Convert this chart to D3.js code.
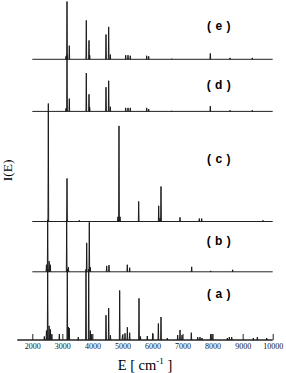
<!DOCTYPE html>
<html>
<head>
<meta charset="utf-8">
<script src="https://d3js.org/d3.v7.min.js"></script>
<style>
body { margin: 0; background: #fff; }
.peak { fill: none; stroke: #1a1a1a; stroke-width: 1; stroke-linejoin: miter; }
.base { stroke: #222; stroke-width: 1; }
.tag { font: bold 12px "Liberation Sans", Arial, sans-serif; letter-spacing: 0.5px; }
.tick text { font-family: "Liberation Serif", "Times New Roman", serif; font-size: 8px; }
</style>
</head>
<body>
<div id="chart"></div>
<script>
// tick labels on the energy axis
var xTicks = [2000, 3000, 4000, 5000, 6000, 7000, 8000, 9000, 10000];
var panelNames = ["(e)", "(d)", "(c)", "(b)", "(a)"];

// peak positions (cm-1) and intensities (relative)
var eE = [3120, 3155, 3232, 3797, 3887, 3910, 4453, 4542, 4596, 5108, 5185, 5261, 5807, 5873, 6640, 7924, 8580, 9321];
var eI = [0.025, 0.49, 0.115, 0.33, 0.16, 0.035, 0.21, 0.275, 0.04, 0.035, 0.035, 0.03, 0.03, 0.025, 0.005, 0.05, 0.012, 0.012];

var dE = [3120, 3155, 3232, 3797, 3887, 3910, 4453, 4542, 4596, 5108, 5185, 5261, 5807, 5873, 6640, 7924, 8580, 9321];
var dI = [0.025, 0.48, 0.108, 0.325, 0.145, 0.035, 0.205, 0.26, 0.04, 0.03, 0.03, 0.03, 0.03, 0.02, 0.005, 0.045, 0.01, 0.01];

var cE = [2533, 3155, 3565, 4850, 4885, 4920, 5540, 6206, 6250, 6283, 6916, 7557, 7637, 9677];
var cI = [1.0, 0.365, 0.01, 0.04, 0.81, 0.04, 0.17, 0.133, 0.03, 0.297, 0.035, 0.025, 0.025, 0.01];

var bE = [2470, 2512, 2560, 2600, 3144, 3200, 3810, 3897, 3930, 4475, 4552, 5161, 5240, 7304, 7936, 8668];
var bI = [0.06, 0.44, 0.09, 0.06, 0.44, 0.04, 0.245, 0.42, 0.04, 0.05, 0.057, 0.06, 0.035, 0.042, 0.008, 0.017];

var aE = [2400, 2470, 2512, 2560, 2600, 2650, 2900, 3165, 3200, 3230, 3530, 3787, 3877, 3930, 3980, 4453, 4542, 4600,
          4908, 5000, 5085, 5163, 5240, 5551, 5600, 5827, 6007, 6195, 6283, 6493, 6838, 6916, 6983, 7292, 7504, 7580,
          7647, 7936, 7980, 8490, 8557, 8636, 9355, 9489, 9800];
var aI = [0.03, 0.08, 0.6, 0.12, 0.09, 0.05, 0.05, 0.6, 0.11, 0.1, 0.025, 0.6, 0.6, 0.08, 0.05, 0.21, 0.27, 0.04,
          0.42, 0.04, 0.057, 0.108, 0.062, 0.353, 0.03, 0.034, 0.057, 0.14, 0.195, 0.017, 0.042, 0.085, 0.042, 0.062, 0.025, 0.025,
          0.017, 0.05, 0.05, 0.017, 0.025, 0.025, 0.017, 0.025, 0.017];

var peaks = [[eE, eI], [dE, dI], [cE, cI], [bE, bI], [aE, aI]];

var W = 286, H = 373;
var svg = d3.select("#chart").append("svg").attr("width", W).attr("height", H);

var x = d3.scaleLinear().domain([2000, 10000]).range([32.3, 272.7]);
var baselines = [59.3, 111.4, 221.5, 271.8, 340];
var tagY = [26.2, 85.3, 159, 241, 293.5];

peaks.forEach(function(p, k) {
  var y = d3.scaleLinear().domain([0, 1]).range([baselines[k], baselines[k] - 118]);
  var g = svg.append("g");
  g.append("line").attr("class", "base")
    .attr("x1", k === 4 ? x(1500) : x(2000)).attr("x2", x(10000))
    .attr("y1", y(0)).attr("y2", y(0))
    .style("stroke-width", k === 4 ? 1.4 : 1);
  var line = d3.line().x(function(d) { return x(d[0]); }).y(function(d) { return y(d[1]); });
  var w = 12;
  p[0].forEach(function(en, i) {
    g.append("path").attr("class", "peak")
      .attr("d", line([[en - w, 0], [en, p[1][i]], [en + w, 0]]));
  });
  g.append("text").attr("class", "tag")
    .attr("x", 219).attr("y", tagY[k])
    .attr("text-anchor", "middle").attr("dominant-baseline", "central")
    .text(panelNames[k].split("").join(" "));
});

// bottom axis with inward ticks
var axis = d3.axisBottom(x).tickValues(xTicks).tickSizeInner(-6).tickSizeOuter(0).tickPadding(3)
  .tickFormat(d3.format("d"));
var ax = svg.append("g").attr("transform", "translate(0," + baselines[4] + ")").call(axis);
ax.select(".domain").remove();
ax.selectAll(".tick line").attr("stroke", "#222");
ax.selectAll(".tick text").attr("fill", "#111");

var xl = svg.append("text")
  .attr("x", 145).attr("y", 369.5).attr("text-anchor", "middle")
  .style("font-family", "'Liberation Serif', 'Times New Roman', serif").style("font-size", "14.5px");
xl.append("tspan").text("E [ cm");
xl.append("tspan").attr("dy", -6).style("font-size", "9px").text("-1");
xl.append("tspan").attr("dy", 6).text(" ]");

svg.append("text")
  .attr("transform", "translate(12,170.5) rotate(-90)")
  .attr("text-anchor", "middle")
  .style("font-family", "'Liberation Serif', 'Times New Roman', serif").style("font-size", "13.5px")
  .text("I(E)");
</script>
</body>
</html>
